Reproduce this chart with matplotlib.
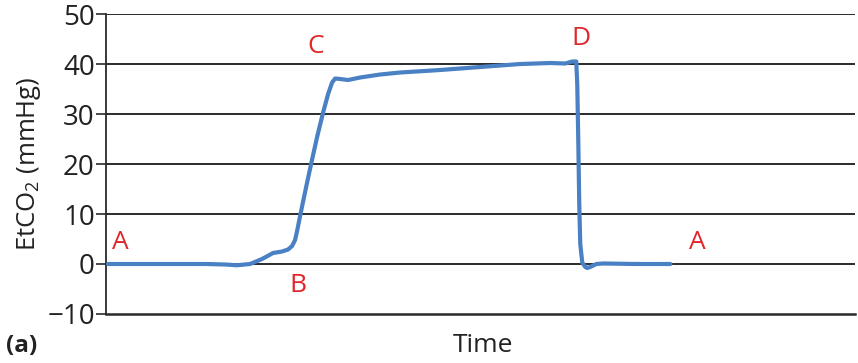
import matplotlib
matplotlib.use("Agg")
import matplotlib.pyplot as plt

plt.rcParams['font.family'] = ['Open Sans', 'DejaVu Sans']
plt.rcParams['mathtext.fontset'] = 'custom'
plt.rcParams['mathtext.rm'] = 'Open Sans'
plt.rcParams['mathtext.it'] = 'Open Sans'

# waveform (time in arbitrary units, EtCO2 in mmHg)
time = [2, 60, 100, 119, 131, 144, 156, 167, 176, 182, 186, 189, 191, 194, 199,
        205, 211, 217, 222, 226, 229, 234, 242, 254, 274, 294, 334, 374, 414, 444,
        459, 466, 470, 471, 472, 473, 474, 476, 479, 481, 484, 490, 497, 530, 564]
etco2 = [0, 0, 0, -0.1, -0.25, 0.0, 1.0, 2.2, 2.5, 2.9, 3.6, 4.8, 6.6, 9.6, 14.4,
         20.0, 25.4, 30.3, 34.0, 36.3, 37.1, 37.0, 36.8, 37.3, 37.9, 38.3, 38.8, 39.4, 40.0, 40.2,
         40.1, 40.5, 40.5, 36.0, 25.0, 12.0, 4.0, 0.3, -0.6, -0.8, -0.6, 0.0, 0.1, 0.0, 0.0]

yticks = [-10, 0, 10, 20, 30, 40, 50]
labels = ['A', 'B', 'C', 'D', 'A']
label_x = [14, 192, 210, 475, 591]
label_y = [4.3, -4.3, 43.6, 45.2, 4.3]

fig = plt.figure(figsize=(8.58, 3.63), dpi=100)
ax = fig.add_axes([0.1235, 0.135, 0.8735, 0.8264])
ax.set_xlim(0, 749)
ax.set_ylim(-10, 50)

for t in yticks[1:]:
    ax.axhline(t, color='#1a1a1a', lw=1.3, zorder=1)

ax.plot(time, etco2, color='#4a80c4', lw=3.0, solid_capstyle='round',
        solid_joinstyle='round', zorder=3)

for lab, lx, ly in zip(labels, label_x, label_y):
    ax.text(lx, ly, lab, color='#e0262b', fontsize=19, ha='center', va='center')

for s in ['top', 'right']:
    ax.spines[s].set_visible(False)
ax.spines['left'].set_color('#2a2a2a')
ax.spines['bottom'].set_color('#2a2a2a')
ax.spines['left'].set_linewidth(1.3)
ax.spines['bottom'].set_linewidth(1.8)

ax.set_yticks(yticks)
ax.set_yticklabels(['\u221210', '0', '10', '20', '30', '40', '50'])
ax.tick_params(axis='y', length=7, width=1.2, labelsize=20, pad=1, colors='#2a2a2a', labelcolor='#222222')
ax.set_xticks([])

ax.set_ylabel('EtCO$_2$ (mmHg)', fontsize=18.5, color='#222222', labelpad=3)
fig.text(0.563, 0.048, 'Time', fontsize=19, ha='center', va='center', color='#222222')
fig.text(0.025, 0.048, '(a)', fontsize=17.5, fontweight='bold', ha='center', va='center', color='#222222')

fig.savefig('out.png', dpi=100)
